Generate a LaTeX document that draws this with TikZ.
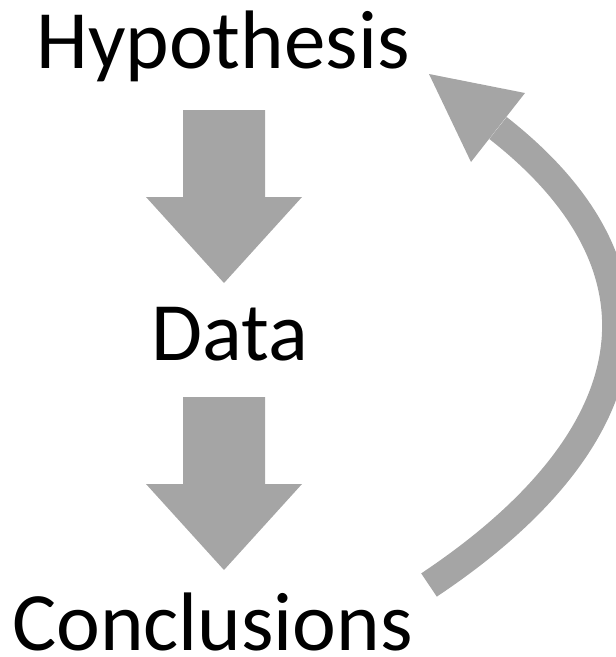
\documentclass[tikz,border=0pt]{standalone}
\usepackage{fontspec}
\setmainfont{Carlito}
\definecolor{arrowgray}{HTML}{A5A5A5}
\begin{document}
\begin{tikzpicture}[x=1pt,y=-1pt,
  lbl/.style={font=\fontsize{83}{90}\selectfont, anchor=base, inner sep=0pt, text=black},
  blockarrow/.style={fill=arrowgray, draw=none}]
\useasboundingbox (0,0) rectangle (616,657);
\node[lbl] (hyp) at (223,68) {Hypothesis};
\node[lbl] (data) at (229.5,360) {Data};
\node[lbl, text depth=0pt] (conc) at (212.5,650) {Conclusions};
% down block arrows
\fill[blockarrow] (183,110) -- (265,110) -- (265,197) -- (302,197) -- (224,283) -- (146,197) -- (183,197) -- cycle;
\fill[blockarrow] (183,397) -- (265,397) -- (265,484) -- (302,484) -- (224,570) -- (146,484) -- (183,484) -- cycle;
% curved return arrow
\coordinate (tail) at (429,585);
\coordinate (hbase) at (498,128);
\draw[arrowgray, line width=28pt, line cap=butt] (tail) .. controls (645,441) and (682,272) .. (hbase);
\fill[blockarrow] (429,74) -- (525,93) -- (471,162) -- cycle;
\end{tikzpicture}
\end{document}
